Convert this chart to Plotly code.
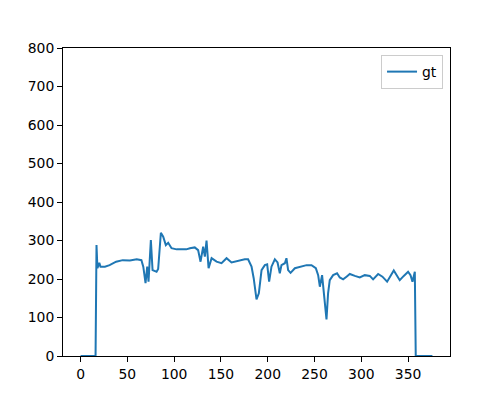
import plotly.graph_objects as go

x_vals = [0, 16, 17, 18, 20, 21.3, 26, 31, 38, 45, 52.7, 60, 65, 67, 69.4, 71.2, 72.6, 75.1, 76.9,
          81.2, 82.9, 85.8, 88.3, 91.1, 93.6, 97.2, 102.6, 106, 113, 116.8, 122, 125.6, 128.2, 131,
          132.8, 134.6, 136.8, 140, 145.3, 150.6, 156, 161.3, 168.4, 175.5, 179, 182.7, 185, 188,
          190.5, 193.4, 196.9, 199.4, 201.5, 204, 207.6, 210.5, 212.9, 214.7, 218.3, 220, 221.8,
          224.4, 229, 234.3, 239.6, 241.5, 246.8, 251.4, 253.9, 255.7, 258.1, 259.9, 262.8, 264.5,
          266.3, 269.9, 274.1, 277, 280.6, 284.2, 287.7, 293.1, 298.4, 303.7, 309.1, 312.6, 318,
          322.6, 327.6, 334.7, 341.1, 345.4, 350, 352.6, 354.7, 357.2, 358.2, 376]
y_vals = [0, 0, 288, 228, 242, 232, 232, 236, 245, 249, 248, 251, 249, 232, 189, 232, 193, 301, 223,
          219, 226, 320, 310, 288, 294, 280, 277, 277, 277, 280, 282, 275, 245, 284,
          258, 300, 228, 254, 245, 241, 254, 243, 248, 251, 251, 232, 202, 147,
          163, 223, 236, 238, 193, 232, 251, 243, 215, 236, 241, 254, 223,
          216, 228, 232, 234, 236, 236, 228, 210, 180, 210, 167, 95, 163,
          197, 210, 215, 204, 199, 206, 213, 208, 204, 210, 208, 199, 213,
          206, 193, 222, 197, 208, 219, 210, 193, 219, 0, 0]

x_ticks = [0, 50, 100, 150, 200, 250, 300, 350]
y_ticks = [0, 100, 200, 300, 400, 500, 600, 700, 800]

fig = go.Figure()
fig.add_trace(go.Scatter(x=x_vals, y=y_vals, mode="lines", name="gt",
                         line=dict(color="#1f77b4", width=2)))

axis_common = dict(showline=True, mirror=True, linecolor="black", linewidth=1,
                   ticks="outside", ticklen=5, tickwidth=1, tickcolor="black",
                   showgrid=False, zeroline=False,
                   tickfont=dict(family="DejaVu Sans", size=13.9, color="black"))

fig.update_layout(
    width=500, height=400,
    paper_bgcolor="white", plot_bgcolor="white",
    margin=dict(l=55, r=58, t=40, b=52),
    xaxis=dict(range=[-18.8, 394.8], tickvals=x_ticks, **axis_common),
    yaxis=dict(range=[0, 800], tickvals=y_ticks, **axis_common),
    showlegend=True,
    legend=dict(x=0.982, y=0.977, xanchor="right", yanchor="top",
                bordercolor="#cccccc", borderwidth=1, bgcolor="white",
                font=dict(family="DejaVu Sans", size=13.9, color="black")),
)

fig.write_html("out.html")
